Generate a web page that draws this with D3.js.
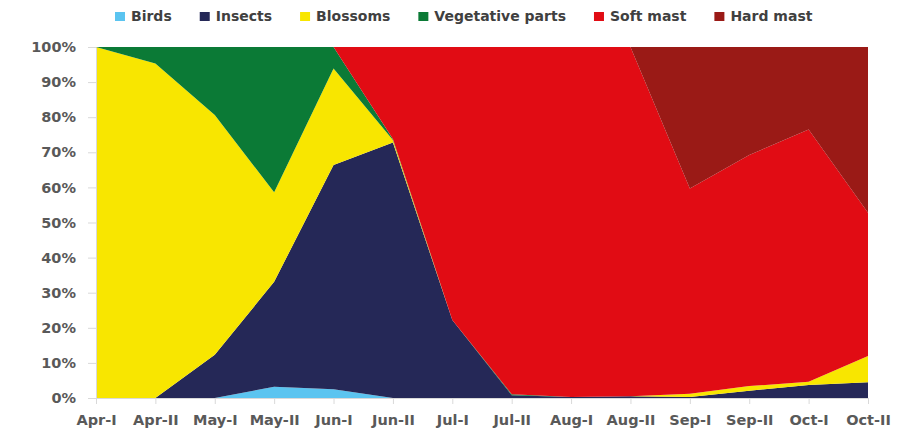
<!DOCTYPE html>
<html>
<head>
<meta charset="utf-8">
<script src="https://cdn.jsdelivr.net/npm/d3@7"></script>
<style>
  body { margin: 0; background: #fff; }
  svg { display: block; }
</style>
</head>
<body>
<div id="chart"></div>
<script>
// half-month periods
const periods = ["Apr-I", "Apr-II", "May-I", "May-II", "Jun-I", "Jun-II", "Jul-I",
                 "Jul-II", "Aug-I", "Aug-II", "Sep-I", "Sep-II", "Oct-I", "Oct-II"];

// share of diet (%)
const birds      = [0, 0, 0, 3.2, 2.5, 0, 0, 0, 0, 0, 0, 0, 0, 0];
const insects    = [0, 0, 12.3, 29.9, 63.9, 72.8, 22.2, 0.8, 0.3, 0.5, 0.3, 2.1, 3.7, 4.5];
const blossoms   = [100, 95.3, 68.3, 25.5, 27.5, 0.7, 0, 0, 0, 0, 0.9, 1.3, 0.9, 7.5];
const vegetative = [0, 4.7, 19.4, 41.4, 6.1, 0.3, 0, 0.3, 0, 0, 0, 0, 0, 0];
const softMast   = [0, 0, 0, 0, 0, 26.2, 77.8, 98.9, 99.7, 99.5, 58.5, 65.8, 71.9, 40.8];
const hardMast   = [0, 0, 0, 0, 0, 0, 0, 0, 0, 0, 40.3, 30.8, 23.5, 47.2];

const seriesNames = ["Birds", "Insects", "Blossoms", "Vegetative parts", "Soft mast", "Hard mast"];
const seriesValues = [birds, insects, blossoms, vegetative, softMast, hardMast];
const colors = ["#5bc4f0", "#252857", "#f8e600", "#0b7a36", "#e10c14", "#9a1a16"];

const yTicks = [0, 10, 20, 30, 40, 50, 60, 70, 80, 90, 100];

const table = periods.map((p, i) => {
    const row = { period: p };
    seriesNames.forEach((s, j) => row[s] = seriesValues[j][i]);
    return row;
});

const margin = { top: 47, right: 37, bottom: 36, left: 96 },
      width = 905 - margin.left - margin.right,
      height = 434 - margin.top - margin.bottom;

const font = "'DejaVu Sans', Verdana, sans-serif";

const svg = d3.select("#chart")
    .append("svg")
    .attr("width", 905)
    .attr("height", 434);

const g = svg.append("g")
    .attr("transform", `translate(${margin.left},${margin.top})`);

const x = d3.scalePoint()
    .domain(periods)
    .range([0, width]);

const y = d3.scaleLinear()
    .domain([0, 100])
    .range([height, 0]);

const stacked = d3.stack()
    .keys(seriesNames)(table);

const area = d3.area()
    .x(d => x(d.data.period))
    .y0(d => y(d[0]))
    .y1(d => y(d[1]));

g.selectAll("path.layer")
    .data(stacked)
    .enter()
    .append("path")
    .attr("class", "layer")
    .attr("fill", (d, i) => colors[i])
    .attr("d", area);

// Y axis
const yAxis = g.append("g")
    .call(d3.axisLeft(y).tickValues(yTicks).tickFormat(d => d + "%")
        .tickSizeInner(8).tickSizeOuter(0).tickPadding(12));
yAxis.select(".domain").attr("stroke", "#d9d9d9");
yAxis.selectAll(".tick line").attr("stroke", "#d9d9d9");
yAxis.selectAll(".tick text")
    .attr("fill", "#595959")
    .style("font-family", font)
    .style("font-weight", "bold")
    .style("font-size", "14.5px");

// X axis
const xAxis = g.append("g")
    .attr("transform", `translate(0,${height})`)
    .call(d3.axisBottom(x).tickSizeInner(6).tickSizeOuter(0).tickPadding(11));
xAxis.select(".domain").attr("stroke", "#d9d9d9");
xAxis.selectAll(".tick line").attr("stroke", "#d9d9d9");
xAxis.selectAll(".tick text")
    .attr("fill", "#595959")
    .style("font-family", font)
    .style("font-weight", "bold")
    .style("font-size", "14.5px");

// Legend
const legend = svg.append("g")
    .attr("transform", "translate(115,0)");
let lx = 0;
seriesNames.forEach((name, i) => {
    const item = legend.append("g").attr("transform", `translate(${lx},0)`);
    item.append("rect")
        .attr("x", 0)
        .attr("y", 12)
        .attr("width", 10)
        .attr("height", 9)
        .attr("fill", colors[i]);
    const t = item.append("text")
        .attr("x", 16)
        .attr("y", 21)
        .attr("fill", "#404040")
        .style("font-family", font)
        .style("font-weight", "bold")
        .style("font-size", "14px")
        .text(name);
    lx += 16 + t.node().getComputedTextLength() + 28;
});
</script>
</body>
</html>
